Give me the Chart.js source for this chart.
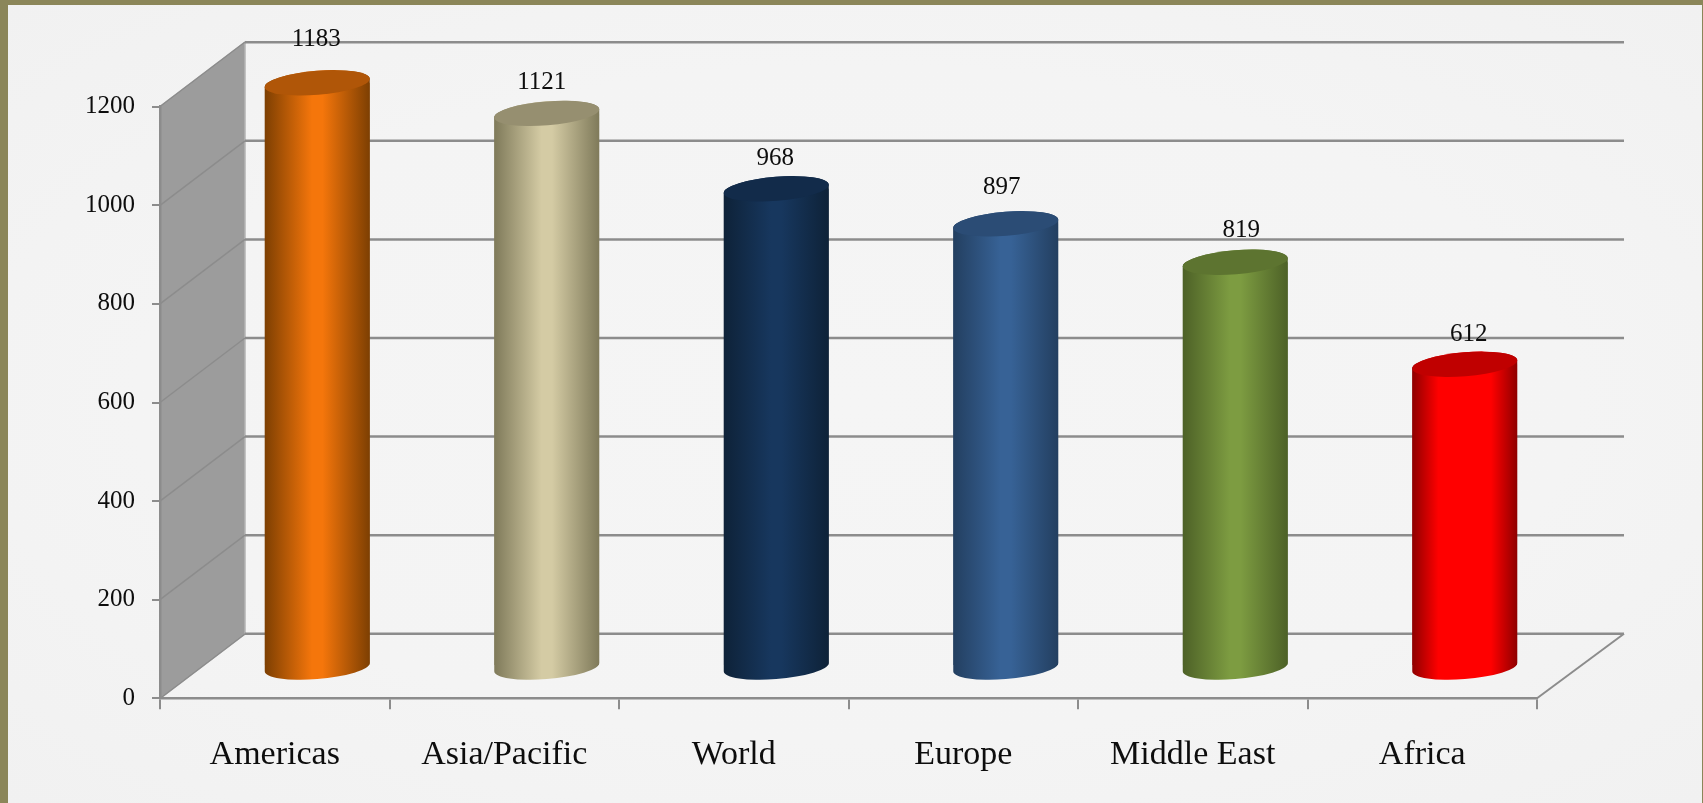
<!DOCTYPE html>
<html>
<head>
<meta charset="utf-8">
<script src="https://cdn.jsdelivr.net/npm/chart.js@4/dist/chart.umd.min.js"></script>
<style>
  html, body { margin: 0; padding: 0; width: 1703px; height: 803px; overflow: hidden; background: #8b8659; }
  #panel {
    position: absolute; left: 8px; top: 5px; width: 1694px; height: 798px;
    background: radial-gradient(ellipse at center, #f5f5f5 0%, #f4f4f4 60%, #f1f1f1 100%);
  }
  canvas { position: absolute; left: 0; top: 0; }
</style>
</head>
<body>
<div id="panel"></div>
<canvas id="chart" width="1703" height="803"></canvas>
<script>
/* data */
const categories = ['Americas', 'Asia/Pacific', 'World', 'Europe', 'Middle East', 'Africa'];
const values = [1183, 1121, 968, 897, 819, 612];
const tickValues = [0, 200, 400, 600, 800, 1000, 1200];

/* cylinder colours: centre of the body, edge of the body, lid */
const bodyColors = ['#f5760b', '#d4cba4', '#17375e', '#376296', '#7d9c41', '#ff0000'];
const edgeColors = ['#7d3f02', '#7f7a5a', '#0e2238', '#233f60', '#4d6127', '#8f0000'];
const lidColors = ['#b05608', '#968f70', '#122b4a', '#2b4c75', '#5d7430', '#c00000'];
// where the bright middle of each body starts (red saturates early)
const brightFrom = [0.45, 0.45, 0.45, 0.45, 0.45, 0.25];

const FONT = '"Liberation Serif", serif';
const TEXT = '#0d0d0d';
const GRID = '#8c8c8c';
const WALL = '#9c9c9c';
const DEPTH_X = 85;      // how far the back wall sits from the front plane
const DEPTH_Y = -64.5;
const TILT = -4.7 * Math.PI / 180;   // ellipses lean a little
const RY = 12;
const BASE_DROP = 2;
const BAR_SHARE = 0.4575;
// the value labels were hand placed in the original: [dx, dy] from the lid centre
const labelNudge = [[-1, -43], [-5, -30.5], [-1, -30.5], [-4, -36.5], [6, -31.5], [4, -29.5]];

function bodyGradient(ctx, cx, hw, i) {
  const g = ctx.createLinearGradient(cx - hw, 0, cx + hw, 0);
  g.addColorStop(0, edgeColors[i]);
  g.addColorStop(brightFrom[i], bodyColors[i]);
  g.addColorStop(1 - brightFrom[i], bodyColors[i]);
  g.addColorStop(1, edgeColors[i]);
  return g;
}

function radiusX(hw) {
  return Math.sqrt(hw * hw - Math.pow(RY * Math.sin(TILT), 2)) / Math.cos(TILT);
}

// outline of the whole cylinder, lid and bottom included
function silhouette(ctx, bar, hw) {
  const rx = radiusX(hw);
  const t0 = Math.atan(-(RY / rx) * Math.tan(TILT));
  const a = t0 + Math.PI;
  // start a new subpath, otherwise ellipse() joins it to the previous cylinder
  ctx.moveTo(
    bar.x + rx * Math.cos(a) * Math.cos(TILT) - RY * Math.sin(a) * Math.sin(TILT),
    bar.y + rx * Math.cos(a) * Math.sin(TILT) + RY * Math.sin(a) * Math.cos(TILT)
  );
  ctx.ellipse(bar.x, bar.y, rx, RY, TILT, a, t0 + 2 * Math.PI);
  ctx.ellipse(bar.x, bar.base + BASE_DROP, rx, RY, TILT, t0, a);
  ctx.closePath();
}

const wallsPlugin = {
  id: 'walls',
  beforeDraw(chart) {
    const { ctx, chartArea: a, scales: { y } } = chart;
    const bottom = y.getPixelForValue(0), top = y.getPixelForValue(1200);
    ctx.save();
    // side wall
    ctx.beginPath();
    ctx.moveTo(a.left, bottom);
    ctx.lineTo(a.left + DEPTH_X, bottom + DEPTH_Y);
    ctx.lineTo(a.left + DEPTH_X, top + DEPTH_Y);
    ctx.lineTo(a.left, top);
    ctx.closePath();
    ctx.fillStyle = WALL;
    ctx.fill();
    ctx.strokeStyle = '#b4b4b4';
    ctx.lineWidth = 1.5;
    ctx.stroke();
    // floor edge on the right
    ctx.strokeStyle = GRID;
    ctx.lineWidth = 2;
    ctx.beginPath();
    ctx.moveTo(a.right, bottom);
    ctx.lineTo(a.right + DEPTH_X + 2, bottom + DEPTH_Y);
    ctx.stroke();
    // grid lines run over the side wall and along the back
    tickValues.forEach(v => {
      const py = y.getPixelForValue(v);
      ctx.beginPath();
      ctx.moveTo(a.left, py);
      ctx.lineTo(a.left + DEPTH_X, py + DEPTH_Y);
      ctx.lineWidth = 1.5;
      ctx.stroke();
      ctx.beginPath();
      ctx.moveTo(a.left + DEPTH_X, py + DEPTH_Y);
      ctx.lineTo(a.right + DEPTH_X + 2, py + DEPTH_Y);
      ctx.lineWidth = 2.5;
      ctx.stroke();
    });
    ctx.restore();
  }
};

const cylinderPlugin = {
  id: 'cylinders',
  beforeDatasetsDraw(chart) {
    const { ctx } = chart;
    ctx.save();
    // bars stand half way between front plane and back wall
    ctx.translate(DEPTH_X / 2, DEPTH_Y / 2);
    ctx.save();
    ctx.beginPath();
    chart.getDatasetMeta(0).data.forEach(bar => silhouette(ctx, bar, bar.width / 2));
    ctx.clip();
  },
  afterDatasetsDraw(chart) {
    const { ctx } = chart;
    ctx.restore();
    chart.getDatasetMeta(0).data.forEach((bar, i) => {
      const hw = bar.width / 2;
      // round the library's rectangle off top and bottom, then put the lid on
      ctx.fillStyle = bodyGradient(ctx, bar.x, hw, i);
      ctx.beginPath();
      silhouette(ctx, bar, hw);
      ctx.fill();
      ctx.fillStyle = lidColors[i];
      ctx.beginPath();
      ctx.ellipse(bar.x, bar.y, radiusX(hw), RY, TILT, 0, Math.PI * 2);
      ctx.fill();
    });
    ctx.restore();
  }
};

const valueLabelsPlugin = {
  id: 'valueLabels',
  afterDraw(chart) {
    const { ctx } = chart;
    ctx.save();
    ctx.font = '25px ' + FONT;
    ctx.fillStyle = TEXT;
    ctx.textAlign = 'center';
    ctx.textBaseline = 'middle';
    chart.getDatasetMeta(0).data.forEach((bar, i) => {
      const [dx, dy] = labelNudge[i];
      ctx.fillText(String(values[i]), bar.x + DEPTH_X / 2 + dx, bar.y + DEPTH_Y / 2 + dy);
    });
    ctx.restore();
  }
};

new Chart(document.getElementById('chart'), {
  type: 'bar',
  data: {
    labels: categories,
    datasets: [{
      data: values,
      clip: false,
      borderWidth: 0,
      barPercentage: BAR_SHARE,
      categoryPercentage: 1,
      backgroundColor: c => {
        const i = c.dataIndex;
        const xs = c.chart.scales.x;
        const cx = xs && i !== undefined ? xs.getPixelForValue(i) : NaN;
        // first pass runs before the scales have a size
        if (!Number.isFinite(cx) || !xs.width) return bodyColors[i || 0];
        const hw = xs.width / categories.length * BAR_SHARE / 2;
        return bodyGradient(c.chart.ctx, cx, hw, i);
      }
    }]
  },
  options: {
    responsive: false,
    animation: false,
    events: [],
    layout: { padding: { left: 0, top: 106.7, right: 166, bottom: 0 } },
    plugins: { legend: { display: false }, tooltip: { enabled: false } },
    scales: {
      x: {
        grid: { drawOnChartArea: false, drawTicks: true, tickLength: 11, tickColor: GRID, lineWidth: 2 },
        border: { color: GRID, width: 2.5 },
        ticks: { color: TEXT, font: { family: FONT, size: 34 }, padding: 25, maxRotation: 0, autoSkip: false },
        afterFit(s) { s.height = 104.7; }
      },
      y: {
        min: 0,
        max: 1200,
        afterBuildTicks(s) { s.ticks = tickValues.map(v => ({ value: v })); },
        grid: { drawOnChartArea: false, drawTicks: true, tickLength: 8, tickColor: GRID, lineWidth: 2 },
        border: { color: GRID, width: 2.5 },
        ticks: { color: TEXT, font: { family: FONT, size: 25 }, padding: 17, callback: v => String(v) },
        afterFit(s) { s.width = 160; }
      }
    }
  },
  plugins: [wallsPlugin, cylinderPlugin, valueLabelsPlugin]
});
</script>
</body>
</html>
